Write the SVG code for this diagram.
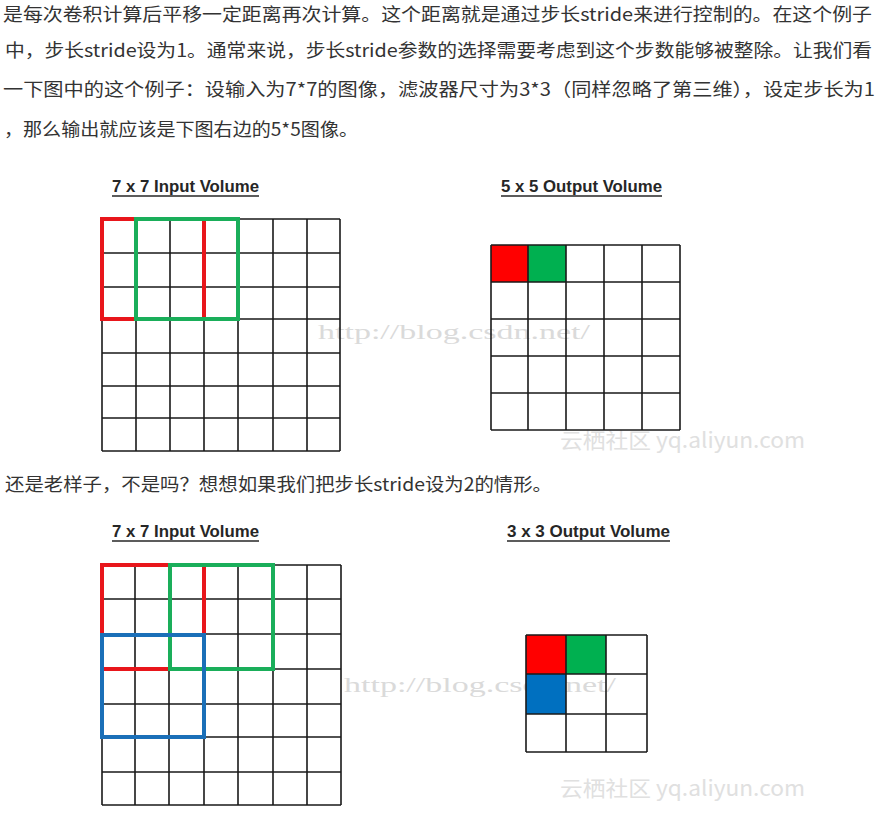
<svg xmlns="http://www.w3.org/2000/svg" width="882" height="820" viewBox="0 0 882 820">
<style>
.para{font-family:"Noto Sans CJK SC","Noto Sans",sans-serif;font-size:18px;fill:#333333}
.title{font-family:"Liberation Sans",Arial,sans-serif;font-weight:bold;font-size:16px;fill:#262626}
.ul{stroke:#262626;stroke-width:1.3}
.grid{stroke:#1a1a1a;stroke-width:1.6;fill:none}
.wm{font-family:"Liberation Serif","DejaVu Serif",serif;font-size:22px;fill:#dadada}
.wm2{font-family:"Noto Sans CJK SC","Liberation Sans",sans-serif;font-size:21px;fill:#e0e0e0}
.red{stroke:#e8161b;stroke-width:4;fill:none}
.green{stroke:#1aae5a;stroke-width:4;fill:none}
.blue{stroke:#1a6fb8;stroke-width:4;fill:none}
</style>
<rect width="882" height="820" fill="#ffffff"/>
<g id="paragraph1">
<text class="para" x="3" y="21" textLength="869" lengthAdjust="spacingAndGlyphs">是每次卷积计算后平移一定距离再次计算。这个距离就是通过步长stride来进行控制的。在这个例子</text>
<text class="para" x="5" y="57" textLength="867" lengthAdjust="spacingAndGlyphs">中，步长stride设为1。通常来说，步长stride参数的选择需要考虑到这个步数能够被整除。让我们看</text>
<text class="para" x="3" y="96" textLength="872" lengthAdjust="spacingAndGlyphs">一下图中的这个例子：设输入为7*7的图像，滤波器尺寸为3*3（同样忽略了第三维），设定步长为1</text>
<text class="para" x="4" y="136" textLength="354" lengthAdjust="spacingAndGlyphs">，那么输出就应该是下图右边的5*5图像。</text>
</g>
<g id="paragraph2">
<text class="para" x="5" y="491" textLength="547" lengthAdjust="spacingAndGlyphs">还是老样子，不是吗？想想如果我们把步长stride设为2的情形。</text>
</g>
<g id="watermarks">
<text class="wm" x="318" y="339" textLength="272" lengthAdjust="spacingAndGlyphs">http://blog.csdn.net/</text>
<text class="wm2" x="560" y="448" textLength="245" lengthAdjust="spacingAndGlyphs">云栖社区 yq.aliyun.com</text>
<text class="wm" x="344" y="692" textLength="272" lengthAdjust="spacingAndGlyphs">http://blog.csdn.net/</text>
<text class="wm2" x="560" y="796" textLength="245" lengthAdjust="spacingAndGlyphs">云栖社区 yq.aliyun.com</text>
</g>
<g id="input1">
<text class="title" x="112" y="192" textLength="147" lengthAdjust="spacingAndGlyphs">7 x 7 Input Volume</text>
<line class="ul" x1="112" y1="196" x2="259" y2="196"/>
<path class="grid" d="M102 219V451M136 219V451M170 219V451M204 219V451M238 219V451M273 219V451M307 219V451M340 219V451M102 219H340M102 253H340M102 287H340M102 319H340M102 353H340M102 386H340M102 418H340M102 451H340"/>
<rect class="red" x="102" y="219" width="102" height="100"/>
<rect class="green" x="136" y="219" width="102" height="100"/>
</g>
<g id="output1">
<text class="title" x="501" y="192" textLength="161" lengthAdjust="spacingAndGlyphs">5 x 5 Output Volume</text>
<line class="ul" x1="501" y1="196" x2="662" y2="196"/>
<rect x="491" y="245" width="37" height="37" fill="#ff0000"/>
<rect x="528" y="245" width="38" height="37" fill="#00b050"/>
<path class="grid" d="M491 245V430M528 245V430M566 245V430M604 245V430M642 245V430M680 245V430M491 245H680M491 282H680M491 319H680M491 356H680M491 393H680M491 430H680"/>
</g>
<g id="input2">
<text class="title" x="112" y="537" textLength="147" lengthAdjust="spacingAndGlyphs">7 x 7 Input Volume</text>
<line class="ul" x1="112" y1="541" x2="259" y2="541"/>
<path class="grid" d="M102 565V805M135 565V805M169 565V805M204 565V805M238 565V805M273 565V805M307 565V805M341 565V805M102 565H341M102 599H341M102 634H341M102 669H341M102 704H341M102 737H341M102 772H341M102 805H341"/>
<rect class="red" x="102" y="565" width="102" height="104"/>
<rect class="green" x="170" y="565" width="103" height="104"/>
<rect class="blue" x="102" y="635" width="102" height="102"/>
</g>
<g id="output2">
<text class="title" x="507" y="537" textLength="163" lengthAdjust="spacingAndGlyphs">3 x 3 Output Volume</text>
<line class="ul" x1="507" y1="541" x2="670" y2="541"/>
<rect x="526" y="635" width="40" height="39" fill="#ff0000"/>
<rect x="566" y="635" width="40" height="39" fill="#00b050"/>
<rect x="526" y="674" width="40" height="40" fill="#0070c0"/>
<path class="grid" d="M526 635V752M566 635V752M606 635V752M647 635V752M526 635H647M526 674H647M526 714H647M526 752H647"/>
</g>
</svg>
